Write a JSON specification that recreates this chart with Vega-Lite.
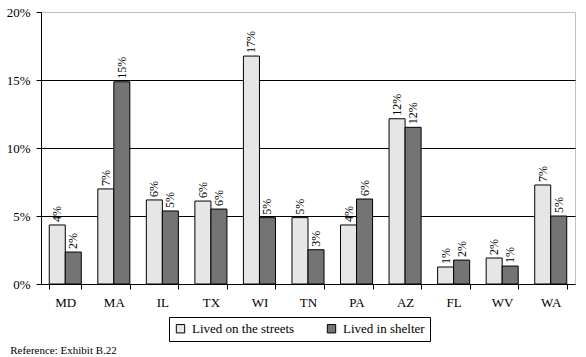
{
  "$schema": "https://vega.github.io/schema/vega-lite/v6.json",
  "width": 534,
  "height": 272,
  "autosize": "none",
  "padding": {"left": 41, "top": 12, "right": 11, "bottom": 73},
  "background": "white",
  "config": {
    "font": "Liberation Serif",
    "view": {"stroke": "#808080", "strokeDash": [1, 1], "strokeWidth": 1},
    "axis": {"labelFont": "Liberation Serif", "labelFontSize": 13, "labelColor": "black", "domainColor": "black", "tickColor": "black"},
    "legend": {"labelFont": "Liberation Serif", "labelFontSize": 13},
    "text": {"font": "Liberation Serif"}
  },
  "title": {
    "text": "Reference:  Exhibit B.22",
    "orient": "bottom",
    "anchor": "start",
    "fontSize": 11,
    "fontWeight": "normal",
    "font": "Liberation Serif",
    "color": "black",
    "dx": 4,
    "offset": 3
  },
  "data": {
    "values": [
      {"state": "MD", "type": "Lived on the streets", "value": 0.0434},
      {"state": "MD", "type": "Lived in shelter", "value": 0.0235},
      {"state": "MA", "type": "Lived on the streets", "value": 0.0699},
      {"state": "MA", "type": "Lived in shelter", "value": 0.1487},
      {"state": "IL", "type": "Lived on the streets", "value": 0.0618},
      {"state": "IL", "type": "Lived in shelter", "value": 0.0537},
      {"state": "TX", "type": "Lived on the streets", "value": 0.061},
      {"state": "TX", "type": "Lived in shelter", "value": 0.0551},
      {"state": "WI", "type": "Lived on the streets", "value": 0.1676},
      {"state": "WI", "type": "Lived in shelter", "value": 0.0488},
      {"state": "TN", "type": "Lived on the streets", "value": 0.0488},
      {"state": "TN", "type": "Lived in shelter", "value": 0.0252},
      {"state": "PA", "type": "Lived on the streets", "value": 0.0434},
      {"state": "PA", "type": "Lived in shelter", "value": 0.0625},
      {"state": "AZ", "type": "Lived on the streets", "value": 0.1215},
      {"state": "AZ", "type": "Lived in shelter", "value": 0.1152},
      {"state": "FL", "type": "Lived on the streets", "value": 0.0125},
      {"state": "FL", "type": "Lived in shelter", "value": 0.0176},
      {"state": "WV", "type": "Lived on the streets", "value": 0.0191},
      {"state": "WV", "type": "Lived in shelter", "value": 0.0132},
      {"state": "WA", "type": "Lived on the streets", "value": 0.0728},
      {"state": "WA", "type": "Lived in shelter", "value": 0.05}
    ]
  },
  "encoding": {
    "x": {
      "field": "state",
      "type": "nominal",
      "sort": null,
      "scale": {"paddingInner": 0.34, "paddingOuter": 0.17},
      "axis": {"title": null, "labelAngle": 0, "tickBand": "extent", "tickSize": 5, "labelPadding": 7, "labelFontWeight": "normal", "domainColor": "black"}
    },
    "xOffset": {"field": "type", "type": "nominal", "sort": ["Lived on the streets", "Lived in shelter"]},
    "y": {
      "field": "value",
      "type": "quantitative",
      "scale": {"domain": [0, 0.2], "nice": false},
      "axis": {
        "title": null,
        "format": ".0%",
        "values": [0, 0.05, 0.1, 0.15, 0.2],
        "tickSize": 5,
        "labelPadding": 6,
        "grid": true,
        "gridColor": {"condition": {"test": "datum.value >= 0.2 || datum.value <= 0", "value": "transparent"}, "value": "black"},
        "gridWidth": 1
      }
    }
  },
  "layer": [
    {
      "mark": {"type": "bar", "stroke": "black", "strokeWidth": 1},
      "encoding": {
        "fill": {
          "field": "type",
          "type": "nominal",
          "sort": ["Lived on the streets", "Lived in shelter"],
          "scale": {"domain": ["Lived on the streets", "Lived in shelter"], "range": ["#e6e6e6", "#747474"]},
          "legend": {
            "title": null,
            "orient": "none",
            "direction": "horizontal",
            "legendX": 128,
            "legendY": 305,
            "symbolType": "square",
            "symbolSize": 70,
            "symbolStrokeColor": "black",
            "symbolStrokeWidth": 1,
            "labelColor": "black",
            "labelOffset": 5,
            "columnPadding": 30,
            "strokeColor": "black",
            "padding": 5,
            "fillColor": "white"
          }
        }
      }
    },
    {
      "mark": {"type": "text", "angle": 270, "align": "left", "baseline": "middle", "dx": 3, "font": "Liberation Serif", "fontSize": 12, "color": "black"},
      "encoding": {
        "text": {"field": "value", "type": "quantitative", "format": ".0%"}
      }
    }
  ]
}
